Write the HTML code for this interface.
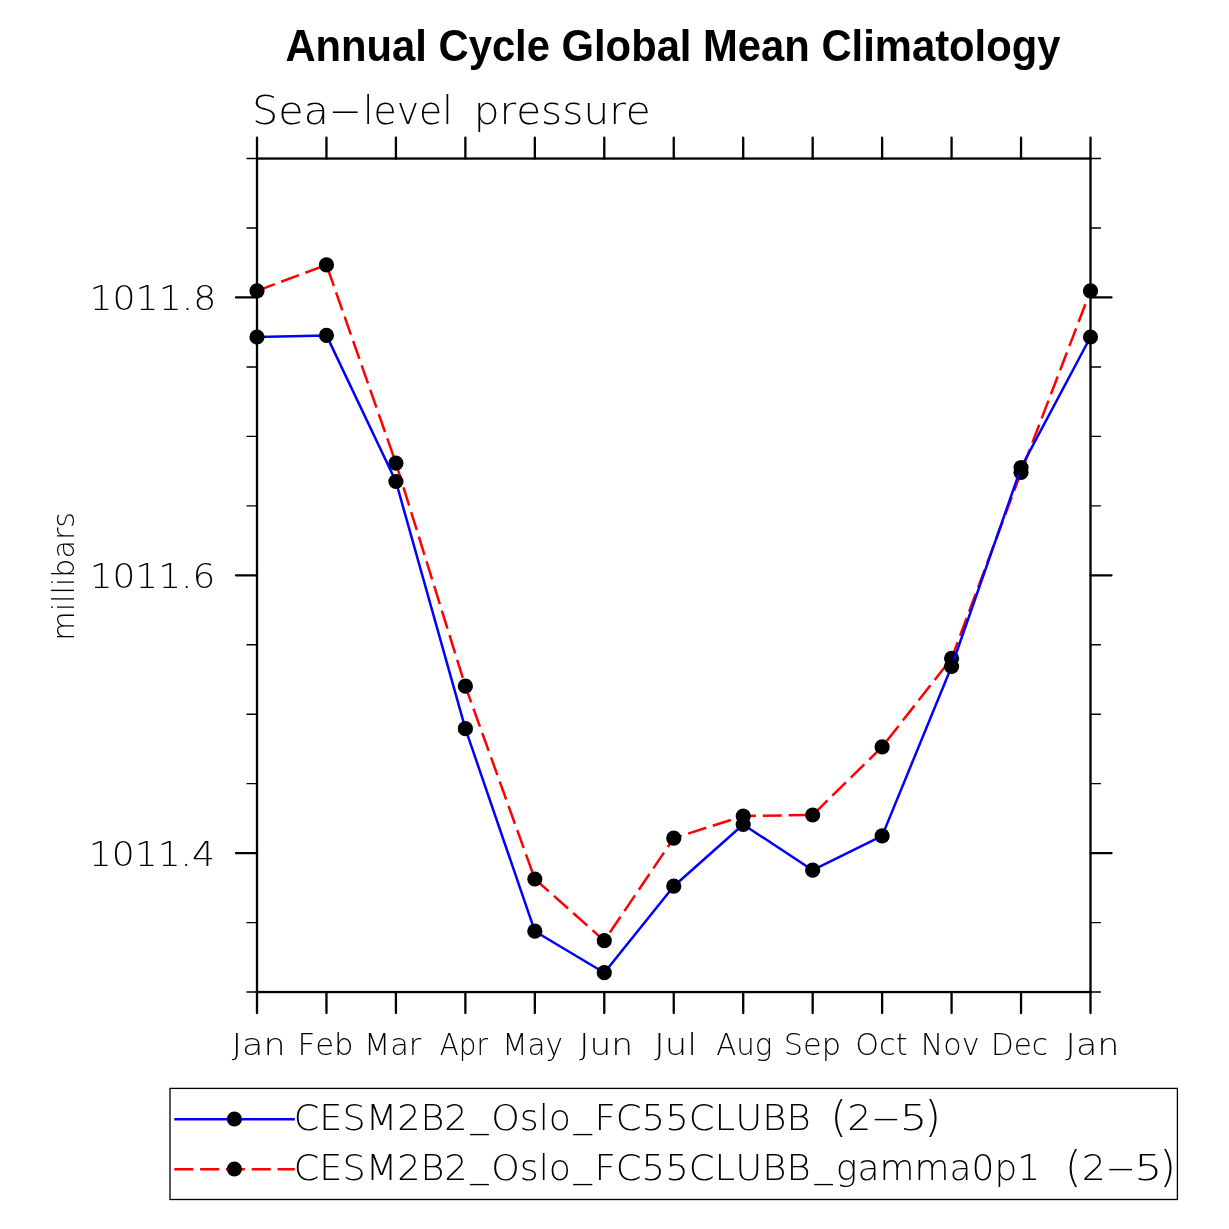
<!DOCTYPE html>
<html lang="en"><head><meta charset="utf-8"><title>Annual Cycle Global Mean Climatology</title>
<style>html,body{margin:0;padding:0;background:#fff}svg{display:block}.t{font-family:"DejaVu Sans Light","DejaVu Sans","Liberation Sans",sans-serif;font-weight:200;fill:#000;font-kerning:none}.h{font-family:"Liberation Sans",Arial,Helvetica,sans-serif;font-weight:700;fill:#000}</style></head><body>
<svg width="1229" height="1229" viewBox="0 0 1229 1229">
<rect width="1229" height="1229" fill="#fff"/>
<text class="h" x="285.4" y="60.9" font-size="44.8" textLength="775" lengthAdjust="spacingAndGlyphs">Annual Cycle Global Mean Climatology</text>
<text class="t" font-size="38.8"><tspan x="251.92" y="123.9" textLength="77.06" lengthAdjust="spacingAndGlyphs">Sea</tspan><tspan x="328.3" y="122.5" textLength="34" lengthAdjust="spacingAndGlyphs">-</tspan><tspan x="363.02" y="123.9" textLength="89.8" lengthAdjust="spacingAndGlyphs">level</tspan> <tspan x="473.66" y="123.9" textLength="177.21" lengthAdjust="spacingAndGlyphs">pressure</tspan></text>
<rect x="257.0" y="158.55" width="833.5" height="833.5" stroke="#000" stroke-width="2.3" fill="none"/>
<path d="M257 158.55V137.55M257 992.05V1013.05M326.46 158.55V137.55M326.46 992.05V1013.05M395.92 158.55V137.55M395.92 992.05V1013.05M465.38 158.55V137.55M465.38 992.05V1013.05M534.83 158.55V137.55M534.83 992.05V1013.05M604.29 158.55V137.55M604.29 992.05V1013.05M673.75 158.55V137.55M673.75 992.05V1013.05M743.21 158.55V137.55M743.21 992.05V1013.05M812.67 158.55V137.55M812.67 992.05V1013.05M882.12 158.55V137.55M882.12 992.05V1013.05M951.58 158.55V137.55M951.58 992.05V1013.05M1021.04 158.55V137.55M1021.04 992.05V1013.05M1090.5 158.55V137.55M1090.5 992.05V1013.05" stroke="#000" stroke-width="2.3" fill="none" stroke-linecap="round"/>
<path d="M257.0 297.47H236M1090.5 297.47H1111.5M257.0 575.3H236M1090.5 575.3H1111.5M257.0 853.13H236M1090.5 853.13H1111.5" stroke="#000" stroke-width="2.3" fill="none" stroke-linecap="round"/>
<path d="M257.0 158.55H246.5M1090.5 158.55H1101M257.0 228.01H246.5M1090.5 228.01H1101M257.0 366.93H246.5M1090.5 366.93H1101M257.0 436.38H246.5M1090.5 436.38H1101M257.0 505.84H246.5M1090.5 505.84H1101M257.0 644.76H246.5M1090.5 644.76H1101M257.0 714.22H246.5M1090.5 714.22H1101M257.0 783.67H246.5M1090.5 783.67H1101M257.0 922.59H246.5M1090.5 922.59H1101M257.0 992.05H246.5M1090.5 992.05H1101" stroke="#000" stroke-width="1.4" fill="none" stroke-linecap="butt"/>
<text class="t" x="89.41" y="309.97" font-size="33.8" textLength="127.03" lengthAdjust="spacingAndGlyphs">1011.8</text>
<text class="t" x="89.65" y="587.8" font-size="33.8" textLength="125.67" lengthAdjust="spacingAndGlyphs">1011.6</text>
<text class="t" x="88.73" y="865.63" font-size="33.8" textLength="126.36" lengthAdjust="spacingAndGlyphs">1011.4</text>
<text class="t" transform="translate(73.7 575.7) rotate(-90)" x="-65.02" y="0" font-size="30" textLength="128.79" lengthAdjust="spacingAndGlyphs">millibars</text>
<text class="t" x="231.71" y="1055.4" font-size="30.4" textLength="53.84" lengthAdjust="spacingAndGlyphs">Jan</text>
<text class="t" x="297.44" y="1055.4" font-size="30.4" textLength="56.21" lengthAdjust="spacingAndGlyphs">Feb</text>
<text class="t" x="363.91" y="1055.4" font-size="30.4" textLength="57.42" lengthAdjust="spacingAndGlyphs">Mar</text>
<text class="t" x="439.87" y="1055.4" font-size="30.4" textLength="48.05" lengthAdjust="spacingAndGlyphs">Apr</text>
<text class="t" x="502.18" y="1055.4" font-size="30.4" textLength="60.8" lengthAdjust="spacingAndGlyphs">May</text>
<text class="t" x="579.31" y="1055.4" font-size="30.4" textLength="53.89" lengthAdjust="spacingAndGlyphs">Jun</text>
<text class="t" x="654.31" y="1055.4" font-size="30.4" textLength="42.95" lengthAdjust="spacingAndGlyphs">Jul</text>
<text class="t" x="716.13" y="1055.4" font-size="30.4" textLength="56.17" lengthAdjust="spacingAndGlyphs">Aug</text>
<text class="t" x="783.7" y="1055.4" font-size="30.4" textLength="57.32" lengthAdjust="spacingAndGlyphs">Sep</text>
<text class="t" x="855.33" y="1055.4" font-size="30.4" textLength="52.27" lengthAdjust="spacingAndGlyphs">Oct</text>
<text class="t" x="920.75" y="1055.4" font-size="30.4" textLength="58.76" lengthAdjust="spacingAndGlyphs">Nov</text>
<text class="t" x="990.91" y="1055.4" font-size="30.4" textLength="57.12" lengthAdjust="spacingAndGlyphs">Dec</text>
<text class="t" x="1065.61" y="1055.4" font-size="30.4" textLength="53.84" lengthAdjust="spacingAndGlyphs">Jan</text>
<polyline points="257,290.8 326.46,264.9 395.92,463.1 465.38,686.2 534.83,879 604.29,940.7 673.75,838.2 743.21,816 812.67,815 882.12,746.9 951.58,658.4 1021.04,472.3 1090.5,290.8" fill="none" stroke="#f00" stroke-width="2.5" stroke-dasharray="19 6.8" stroke-linejoin="round"/>
<g fill="#000"><circle cx="257" cy="290.8" r="7.6"/><circle cx="326.46" cy="264.9" r="7.6"/><circle cx="395.92" cy="463.1" r="7.6"/><circle cx="465.38" cy="686.2" r="7.6"/><circle cx="534.83" cy="879" r="7.6"/><circle cx="604.29" cy="940.7" r="7.6"/><circle cx="673.75" cy="838.2" r="7.6"/><circle cx="743.21" cy="816" r="7.6"/><circle cx="812.67" cy="815" r="7.6"/><circle cx="882.12" cy="746.9" r="7.6"/><circle cx="951.58" cy="658.4" r="7.6"/><circle cx="1021.04" cy="472.3" r="7.6"/><circle cx="1090.5" cy="290.8" r="7.6"/></g>
<polyline points="257,337 326.46,335.4 395.92,481.5 465.38,728.7 534.83,931.2 604.29,972.7 673.75,886.2 743.21,824.5 812.67,870.2 882.12,835.9 951.58,666.5 1021.04,467.6 1090.5,337" fill="none" stroke="#00f" stroke-width="2.5" stroke-linejoin="round"/>
<g fill="#000"><circle cx="257" cy="337" r="7.6"/><circle cx="326.46" cy="335.4" r="7.6"/><circle cx="395.92" cy="481.5" r="7.6"/><circle cx="465.38" cy="728.7" r="7.6"/><circle cx="534.83" cy="931.2" r="7.6"/><circle cx="604.29" cy="972.7" r="7.6"/><circle cx="673.75" cy="886.2" r="7.6"/><circle cx="743.21" cy="824.5" r="7.6"/><circle cx="812.67" cy="870.2" r="7.6"/><circle cx="882.12" cy="835.9" r="7.6"/><circle cx="951.58" cy="666.5" r="7.6"/><circle cx="1021.04" cy="467.6" r="7.6"/><circle cx="1090.5" cy="337" r="7.6"/></g>
<rect x="170" y="1088.4" width="1007.4" height="111.1" fill="#fff" stroke="#000" stroke-width="1.3"/>
<path d="M174.3 1119.15H294.8" stroke="#00f" stroke-width="2.5" fill="none"/>
<path d="M174.3 1169.15H294.8" stroke="#f00" stroke-width="2.5" stroke-dasharray="19 6.8" fill="none"/>
<circle cx="234.4" cy="1119" r="7.6" fill="#000"/><circle cx="234.4" cy="1169" r="7.6" fill="#000"/>
<text class="t" font-size="35.3"><tspan x="293.87" y="1130.2" textLength="173.69" lengthAdjust="spacingAndGlyphs">CESM2B2</tspan><tspan x="470.16" y="1126.7" textLength="18.29" lengthAdjust="spacingAndGlyphs">_</tspan><tspan x="491.35" y="1130.2" textLength="79.64" lengthAdjust="spacingAndGlyphs">Oslo</tspan><tspan x="573.56" y="1126.7" textLength="18.48" lengthAdjust="spacingAndGlyphs">_</tspan><tspan x="594.48" y="1130.2" textLength="216.33" lengthAdjust="spacingAndGlyphs">FC55CLUBB</tspan> <tspan x="830.42" y="1132.29" font-size="42">(</tspan><tspan x="847.27" y="1130.2" textLength="24.12" lengthAdjust="spacingAndGlyphs">2</tspan><tspan x="870.53" y="1128.7" textLength="30.85" lengthAdjust="spacingAndGlyphs">-</tspan><tspan x="899.82" y="1130.2" textLength="27.61" lengthAdjust="spacingAndGlyphs">5</tspan><tspan x="924.62" y="1132.29" font-size="42">)</tspan></text>
<text class="t" font-size="35.3"><tspan x="293.87" y="1180.3" textLength="173.69" lengthAdjust="spacingAndGlyphs">CESM2B2</tspan><tspan x="470.16" y="1176.8" textLength="18.29" lengthAdjust="spacingAndGlyphs">_</tspan><tspan x="491.35" y="1180.3" textLength="79.64" lengthAdjust="spacingAndGlyphs">Oslo</tspan><tspan x="573.56" y="1176.8" textLength="18.48" lengthAdjust="spacingAndGlyphs">_</tspan><tspan x="594.48" y="1180.3" textLength="216.33" lengthAdjust="spacingAndGlyphs">FC55CLUBB</tspan><tspan x="814.46" y="1176.8" textLength="18.19" lengthAdjust="spacingAndGlyphs">_</tspan><tspan x="835.8" y="1180.3" textLength="204.29" lengthAdjust="spacingAndGlyphs">gamma0p1</tspan> <tspan x="1064.92" y="1182.39" font-size="42">(</tspan><tspan x="1081.77" y="1180.3" textLength="24.12" lengthAdjust="spacingAndGlyphs">2</tspan><tspan x="1104.97" y="1178.8" textLength="31.26" lengthAdjust="spacingAndGlyphs">-</tspan><tspan x="1134.25" y="1180.3" textLength="28.06" lengthAdjust="spacingAndGlyphs">5</tspan><tspan x="1159.42" y="1182.39" font-size="42">)</tspan></text>
</svg></body></html>
